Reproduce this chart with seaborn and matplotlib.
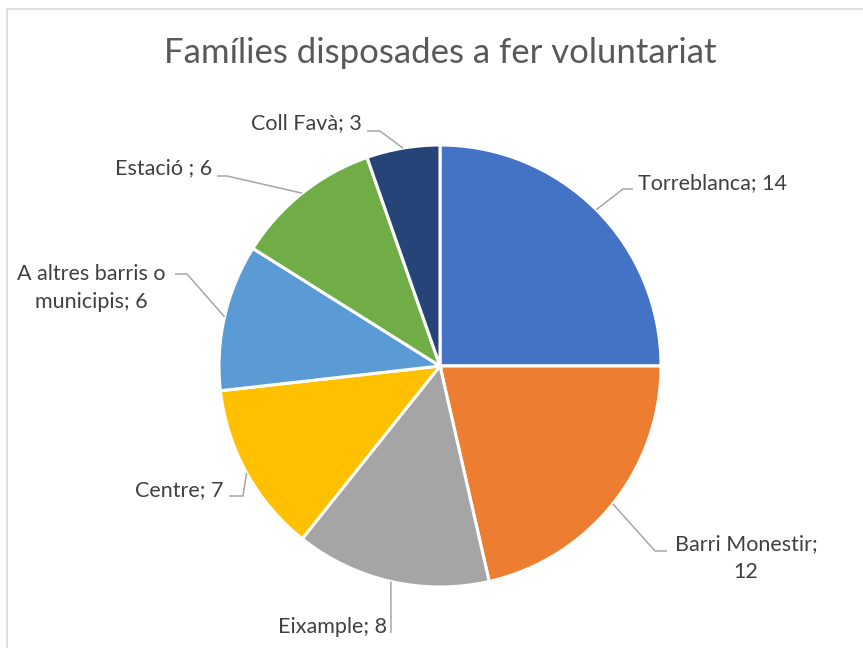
import numpy as np
import matplotlib
matplotlib.use("Agg")
import matplotlib.pyplot as plt
import seaborn as sns

# ---- data ----
categories = ["Torreblanca", "Barri Monestir", "Eixample", "Centre",
              "A altres barris o municipis", "Estació ", "Coll Favà"]
values = [14, 12, 8, 7, 6, 6, 3]
colors = ["#4472C4", "#ED7D31", "#A5A5A5", "#FFC000", "#5B9BD5", "#70AD47", "#264478"]
title = "Famílies disposades a fer voluntariat"

sns.set_theme(style="white")
plt.rcParams["font.family"] = ["Lato", "DejaVu Sans"]

W, H = 863, 648
fig = plt.figure(figsize=(W / 100, H / 100), dpi=100)
ax = fig.add_axes([0, 0, 1, 1])

cx, cy, R = 440, 366, 221
palette = sns.color_palette(colors)
wedges, _ = ax.pie(values, colors=palette, startangle=90, counterclock=False,
                   center=(cx, H - cy), radius=R,
                   wedgeprops=dict(edgecolor="white", linewidth=2.2))
ax.set_xlim(0, W)
ax.set_ylim(0, H)
ax.set_aspect("equal")
ax.axis("off")

# border of chart area
fig.patches.append(plt.Rectangle((7 / W, -0.1), 1.2, (H - 9) / H + 0.1,
                                 transform=fig.transFigure, fill=False,
                                 edgecolor="#d9d9d9", linewidth=1.2))

ax.text(cx, H - 53, title, ha="center", va="center", fontsize=25, color="#595959")

# label layout: (elbow points in pixel, text position, ha, wrapped label)
layout = [
    ([(623, 189), (633, 189)], (638, 183), "left", None),
    ([(655, 551), (667, 551)], (746, 558), "center", "Barri Monestir;\n{v}"),
    ([(391, 633)], (387, 627), "right", None),
    ([(243, 496), (229, 496)], (223, 490), "right", None),
    ([(187, 274), (175, 274)], (91, 288), "center", "A altres barris o\nmunicipis; {v}"),
    ([(227, 176), (217, 176)], (212, 168), "right", None),
    ([(380, 131), (367, 131)], (362, 123), "right", None),
]

for w, cat, val, (pts, tpos, ha, wrap) in zip(wedges, categories, values, layout):
    mid = np.deg2rad((w.theta1 + w.theta2) / 2)
    ax_, ay_ = cx + R * np.cos(mid), (H - cy) + R * np.sin(mid)
    xs = [ax_] + [p[0] for p in pts]
    ys = [ay_] + [H - p[1] for p in pts]
    ax.plot(xs, ys, color="#a6a6a6", linewidth=1.1, solid_capstyle="butt")
    label = wrap.format(v=val) if wrap else f"{cat}; {val}"
    ax.text(tpos[0], H - tpos[1], label, ha=ha, va="center", fontsize=15.5,
            color="#404040", linespacing=1.45, multialignment="center")

fig.savefig("out.png", dpi=100)
